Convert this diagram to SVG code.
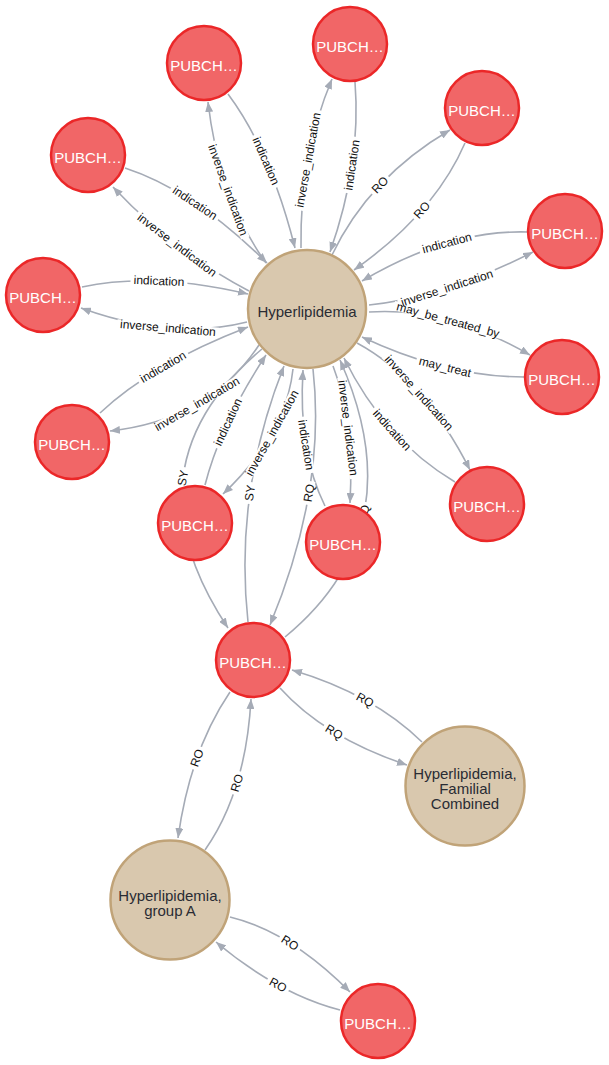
<svg xmlns="http://www.w3.org/2000/svg" width="609" height="1065" viewBox="0 0 609 1065">
<style>
.edge{fill:none;stroke:#a5abb6;stroke-width:1.6}
.arr{marker-end:url(#arrow)}
.bg{fill:#ffffff}
.lbl{font-family:"Liberation Sans",Arial,sans-serif;font-size:12px;fill:#111;text-anchor:middle;dominant-baseline:central}
.red circle{fill:#f16667;stroke:#eb2728;stroke-width:2.5}
.red text{font-family:"Liberation Sans",Arial,sans-serif;font-size:15px;fill:#ffffff;text-anchor:middle}
.tan circle{fill:#d9c8ae;stroke:#c0a378;stroke-width:2.5}
.tan text{font-family:"Liberation Sans",Arial,sans-serif;font-size:15px;fill:#2a2c34;text-anchor:middle}
</style>
<defs>
<marker id="arrow" markerUnits="userSpaceOnUse" viewBox="0 0 10 8" markerWidth="10" markerHeight="8" refX="10" refY="4" orient="auto">
<path d="M0,0 L10,4 L0,8 z" fill="#a5abb6"/>
</marker>
</defs>
<rect width="609" height="1065" fill="#ffffff"/>
<g id="connectors">
<path class="edge arr" d="M266,263 Q219,197.5 208,102"/>
<path class="edge arr" d="M228,94 Q270.5,151 295,248"/>
<path class="edge arr" d="M301,248 Q299.5,156.5 332,79"/>
<path class="edge arr" d="M355,82 Q361.5,163 330,252"/>
<path class="edge arr" d="M332,255 Q369,177.5 450,130"/>
<path class="edge arr" d="M465,143 Q434.5,213.5 354,270"/>
<path class="edge arr" d="M528,232 Q449,229.5 362,281"/>
<path class="edge arr" d="M369,305 Q443,297.5 533,252"/>
<path class="edge arr" d="M369,312 Q446.5,306.5 530,355"/>
<path class="edge arr" d="M524,377 Q447,377 362,337"/>
<path class="edge arr" d="M357,343 Q424.5,379.5 470,470"/>
<path class="edge arr" d="M455,482 Q384.5,440 344,358"/>
<path class="edge arr" d="M333,366 Q354.5,421.5 350,503"/>
<path class="edge arr" d="M325,506 Q298,452 303,370"/>
<path class="edge arr" d="M313,369 Q326.5,489 270,625"/>
<path class="edge arr" d="M285,637 Q415.5,529.5 340,360"/>
<path class="edge arr" d="M248,622 Q234,492 284,366"/>
<path class="edge arr" d="M262,349 Q121,467.5 228,628"/>
<path class="edge arr" d="M205,485 Q220.5,424 266,355"/>
<path class="edge arr" d="M293,369 Q286,434.5 223,494"/>
<path class="edge arr" d="M100,413 Q152,364 248,327"/>
<path class="edge arr" d="M259,345 Q209.5,420 110,431"/>
<path class="edge arr" d="M82,287 Q153,271.5 248,294"/>
<path class="edge arr" d="M247,322 Q172,341 81,308"/>
<path class="edge arr" d="M125,168 Q194,190.5 267,263"/>
<path class="edge arr" d="M249,291 Q173,251 113,187"/>
<path class="edge arr" d="M422,742 Q373,694 292,670"/>
<path class="edge arr" d="M280,688 Q324.5,737.5 407,765"/>
<path class="edge arr" d="M230,692 Q190,751 178,838"/>
<path class="edge arr" d="M205,850 Q246,791.5 251,699"/>
<path class="edge arr" d="M230,917 Q290,931.5 350,992"/>
<path class="edge arr" d="M340,1010 Q278,994 216,942"/>
</g>
<g id="label-gaps">
<rect class="bg" x="-51" y="-4.5" width="102" height="9" transform="translate(228,190) rotate(70.2)"/>
<rect class="bg" x="-28.5" y="-4.5" width="57" height="9" transform="translate(266,161) rotate(66.5)"/>
<rect class="bg" x="-51" y="-4.5" width="102" height="9" transform="translate(308,160) rotate(-79.6)"/>
<rect class="bg" x="-28.5" y="-4.5" width="57" height="9" transform="translate(352,165) rotate(-81.6)"/>
<rect class="bg" x="-12" y="-4.5" width="24" height="9" transform="translate(380,185) rotate(-46.6)"/>
<rect class="bg" x="-12" y="-4.5" width="24" height="9" transform="translate(422,210) rotate(-48.8)"/>
<rect class="bg" x="-28.5" y="-4.5" width="57" height="9" transform="translate(447,243) rotate(-15)"/>
<rect class="bg" x="-51" y="-4.5" width="102" height="9" transform="translate(447,288) rotate(-17.9)"/>
<rect class="bg" x="-56" y="-4.5" width="112" height="9" transform="translate(448,320) rotate(15.2)"/>
<rect class="bg" x="-29.5" y="-4.5" width="59" height="9" transform="translate(445,367) rotate(14.1)"/>
<rect class="bg" x="-51" y="-4.5" width="102" height="9" transform="translate(419,393) rotate(48.3)"/>
<rect class="bg" x="-28.5" y="-4.5" width="57" height="9" transform="translate(392,430) rotate(48.2)"/>
<rect class="bg" x="-51" y="-4.5" width="102" height="9" transform="translate(348,428) rotate(82.9)"/>
<rect class="bg" x="-28.5" y="-4.5" width="57" height="9" transform="translate(306,445) rotate(80.8)"/>
<rect class="bg" x="-12" y="-4.5" width="24" height="9" transform="translate(309,493) rotate(-80.5)"/>
<rect class="bg" x="-12" y="-4.5" width="24" height="9" transform="translate(364,514) rotate(-78.8)"/>
<rect class="bg" x="-11" y="-4.5" width="22" height="9" transform="translate(250,493) rotate(-82)"/>
<rect class="bg" x="-11" y="-4.5" width="22" height="9" transform="translate(183,478) rotate(-80)"/>
<rect class="bg" x="-28.5" y="-4.5" width="57" height="9" transform="translate(228,422) rotate(-64.9)"/>
<rect class="bg" x="-51" y="-4.5" width="102" height="9" transform="translate(272,433) rotate(-60.8)"/>
<rect class="bg" x="-28.5" y="-4.5" width="57" height="9" transform="translate(163,367) rotate(-30.2)"/>
<rect class="bg" x="-51" y="-4.5" width="102" height="9" transform="translate(197,404) rotate(-30)"/>
<rect class="bg" x="-28.5" y="-4.5" width="57" height="9" transform="translate(159,281) rotate(2.4)"/>
<rect class="bg" x="-51" y="-4.5" width="102" height="9" transform="translate(168,328) rotate(4.8)"/>
<rect class="bg" x="-28.5" y="-4.5" width="57" height="9" transform="translate(195,203) rotate(33.8)"/>
<rect class="bg" x="-51" y="-4.5" width="102" height="9" transform="translate(177,245) rotate(37.4)"/>
<rect class="bg" x="-12" y="-4.5" width="24" height="9" transform="translate(365,700) rotate(29)"/>
<rect class="bg" x="-12" y="-4.5" width="24" height="9" transform="translate(334,732) rotate(31.2)"/>
<rect class="bg" x="-12" y="-4.5" width="24" height="9" transform="translate(197,758) rotate(-70.4)"/>
<rect class="bg" x="-12" y="-4.5" width="24" height="9" transform="translate(237,783) rotate(-73)"/>
<rect class="bg" x="-12" y="-4.5" width="24" height="9" transform="translate(290,943) rotate(32)"/>
<rect class="bg" x="-12" y="-4.5" width="24" height="9" transform="translate(278,985) rotate(28.7)"/>
</g>
<g id="connector-labels">
<text class="lbl" transform="translate(228,190) rotate(70.2)">inverse_indication</text>
<text class="lbl" transform="translate(266,161) rotate(66.5)">indication</text>
<text class="lbl" transform="translate(308,160) rotate(-79.6)">inverse_indication</text>
<text class="lbl" transform="translate(352,165) rotate(-81.6)">indication</text>
<text class="lbl" transform="translate(380,185) rotate(-46.6)">RO</text>
<text class="lbl" transform="translate(422,210) rotate(-48.8)">RO</text>
<text class="lbl" transform="translate(447,243) rotate(-15)">indication</text>
<text class="lbl" transform="translate(447,288) rotate(-17.9)">inverse_indication</text>
<text class="lbl" transform="translate(448,320) rotate(15.2)">may_be_treated_by</text>
<text class="lbl" transform="translate(445,367) rotate(14.1)">may_treat</text>
<text class="lbl" transform="translate(419,393) rotate(48.3)">inverse_indication</text>
<text class="lbl" transform="translate(392,430) rotate(48.2)">indication</text>
<text class="lbl" transform="translate(348,428) rotate(82.9)">inverse_indication</text>
<text class="lbl" transform="translate(306,445) rotate(80.8)">indication</text>
<text class="lbl" transform="translate(309,493) rotate(-80.5)">RQ</text>
<text class="lbl" transform="translate(364,514) rotate(-78.8)">RQ</text>
<text class="lbl" transform="translate(250,493) rotate(-82)">SY</text>
<text class="lbl" transform="translate(183,478) rotate(-80)">SY</text>
<text class="lbl" transform="translate(228,422) rotate(-64.9)">indication</text>
<text class="lbl" transform="translate(272,433) rotate(-60.8)">inverse_indication</text>
<text class="lbl" transform="translate(163,367) rotate(-30.2)">indication</text>
<text class="lbl" transform="translate(197,404) rotate(-30)">inverse_indication</text>
<text class="lbl" transform="translate(159,281) rotate(2.4)">indication</text>
<text class="lbl" transform="translate(168,328) rotate(4.8)">inverse_indication</text>
<text class="lbl" transform="translate(195,203) rotate(33.8)">indication</text>
<text class="lbl" transform="translate(177,245) rotate(37.4)">inverse_indication</text>
<text class="lbl" transform="translate(365,700) rotate(29)">RQ</text>
<text class="lbl" transform="translate(334,732) rotate(31.2)">RQ</text>
<text class="lbl" transform="translate(197,758) rotate(-70.4)">RO</text>
<text class="lbl" transform="translate(237,783) rotate(-73)">RO</text>
<text class="lbl" transform="translate(290,943) rotate(32)">RO</text>
<text class="lbl" transform="translate(278,985) rotate(28.7)">RO</text>
</g>
<g id="nodes">
<g id="n-hyperlipidemia" class="tan"><circle cx="307" cy="309" r="59"/><text x="307" y="316.5">Hyperlipidemia</text></g>
<g id="n-familial-combined" class="tan"><circle cx="465" cy="786" r="59.5"/><text x="465" y="778.5">Hyperlipidemia,</text><text x="465" y="793.5">Familial</text><text x="465" y="808.5">Combined</text></g>
<g id="n-group-a" class="tan"><circle cx="170" cy="900" r="59.5"/><text x="170" y="900.5">Hyperlipidemia,</text><text x="170" y="915.5">group A</text></g>
<g id="n-p1" class="red"><circle cx="204" cy="63" r="37"/><text x="204" y="70.5">PUBCH…</text></g>
<g id="n-p2" class="red"><circle cx="350" cy="44" r="37"/><text x="350" y="51.5">PUBCH…</text></g>
<g id="n-p3" class="red"><circle cx="482" cy="108" r="37"/><text x="482" y="115.5">PUBCH…</text></g>
<g id="n-p4" class="red"><circle cx="565" cy="231" r="37"/><text x="565" y="238.5">PUBCH…</text></g>
<g id="n-p5" class="red"><circle cx="562" cy="377" r="37"/><text x="562" y="384.5">PUBCH…</text></g>
<g id="n-p6" class="red"><circle cx="487" cy="504" r="37"/><text x="487" y="511.5">PUBCH…</text></g>
<g id="n-p7" class="red"><circle cx="343" cy="542" r="37"/><text x="343" y="549.5">PUBCH…</text></g>
<g id="n-p8" class="red"><circle cx="195" cy="523" r="37"/><text x="195" y="530.5">PUBCH…</text></g>
<g id="n-p9" class="red"><circle cx="72" cy="442" r="37"/><text x="72" y="449.5">PUBCH…</text></g>
<g id="n-p10" class="red"><circle cx="43" cy="295" r="37"/><text x="43" y="302.5">PUBCH…</text></g>
<g id="n-p11" class="red"><circle cx="88" cy="155" r="37"/><text x="88" y="162.5">PUBCH…</text></g>
<g id="n-hub" class="red"><circle cx="253" cy="660" r="37"/><text x="253" y="667.5">PUBCH…</text></g>
<g id="n-p13" class="red"><circle cx="378" cy="1021" r="37"/><text x="378" y="1028.5">PUBCH…</text></g>
</g>
</svg>
